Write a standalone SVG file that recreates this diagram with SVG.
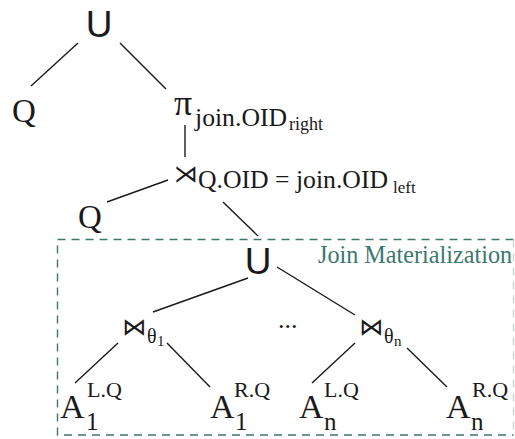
<svg xmlns="http://www.w3.org/2000/svg" width="515" height="439" viewBox="0 0 515 439">
  <style>
    .t { font-family: 'Liberation Serif', 'Times New Roman', Times, serif; fill: #1a1a1a; }
    .op { font-family: 'Liberation Sans', Arial, sans-serif; font-size: 37px; text-anchor: middle; fill: #1a1a1a; }
    .sym { font-family: 'DejaVu Sans', sans-serif; font-size: 24px; fill: #1a1a1a; }
    .rel { font-size: 33px; }
    .a { font-size: 34px; }
    .idx { font-size: 25px; }
    .sup { font-size: 22px; }
    .sub { font-size: 25.7px; }
    .tiny { font-size: 17px; }
    .th { font-size: 20px; }
    .thi { font-size: 15px; }
    .edge line { stroke: #1a1a1a; stroke-width: 1.4; }
    .frame { fill: none; stroke: #3b786e; stroke-width: 1.4; stroke-dasharray: 8 6; }
    .frame-r { stroke: #c9d6d3; stroke-width: 1.4; stroke-dasharray: 8 6; }
    .label { fill: #3b786e; font-size: 24.2px; }
  </style>

  <!-- dashed region around the materialised join -->
  <g id="join-materialization">
    <polyline class="frame" points="513.5,239.5 57.5,239.5 57.5,435 513.5,435"/>
    <line class="frame-r" x1="513.5" y1="239.5" x2="513.5" y2="435"/>
    <text class="t label" x="318" y="263">Join Materialization</text>
  </g>

  <!-- connectors -->
  <g id="edges" class="edge">
    <line x1="78" y1="43" x2="31" y2="86"/>
    <line x1="120" y1="43" x2="166" y2="89"/>
    <line x1="185" y1="125" x2="185" y2="157"/>
    <line x1="107" y1="202" x2="168" y2="180"/>
    <line x1="223" y1="202" x2="258" y2="236"/>
    <line x1="248" y1="278" x2="153" y2="312"/>
    <line x1="277" y1="267" x2="355" y2="315"/>
    <line x1="118" y1="343" x2="75" y2="383"/>
    <line x1="167" y1="343" x2="210" y2="387"/>
    <line x1="355" y1="343" x2="312" y2="383"/>
    <line x1="407" y1="348" x2="447" y2="387"/>
  </g>

  <g id="union-top">
    <text class="op" x="99" y="37">U</text>
  </g>

  <g id="q-left">
    <text class="t rel" x="12" y="122">Q</text>
  </g>

  <g id="projection">
    <text class="t" x="174" y="115" font-size="36">π</text>
    <text class="t sub" x="195" y="126">join.OID</text>
    <text class="t" x="289" y="130" font-size="18">right</text>
  </g>

  <g id="semijoin">
    <text class="sym" x="174" y="182">⋊</text>
    <text class="t sub" x="198" y="188">Q.OID = join.OID</text>
    <text class="t tiny" x="393" y="193">left</text>
  </g>

  <g id="q-join">
    <text class="t rel" x="78" y="228">Q</text>
  </g>

  <g id="union-inner">
    <text class="op" x="258" y="274">U</text>
  </g>

  <g id="join-1">
    <text class="sym" x="122" y="335">⋈</text>
    <text class="t th" x="147" y="343">θ</text>
    <text class="t thi" x="157" y="346">1</text>
  </g>

  <g id="ellipsis">
    <text class="t" x="278" y="328" font-size="26">...</text>
  </g>

  <g id="join-n">
    <text class="sym" x="359" y="335">⋈</text>
    <text class="t th" x="384" y="343">θ</text>
    <text class="t thi" x="394" y="346">n</text>
  </g>

  <g id="a1-left">
    <text class="t a" x="60" y="418">A</text>
    <text class="t idx" x="86" y="430">1</text>
    <text class="t sup" x="87" y="397">L.Q</text>
  </g>

  <g id="a1-right">
    <text class="t a" x="210" y="418">A</text>
    <text class="t idx" x="235" y="430">1</text>
    <text class="t sup" x="234" y="397">R.Q</text>
  </g>

  <g id="an-left">
    <text class="t a" x="299" y="418">A</text>
    <text class="t idx" x="324" y="430">n</text>
    <text class="t sup" x="324" y="397">L.Q</text>
  </g>

  <g id="an-right">
    <text class="t a" x="446" y="418">A</text>
    <text class="t idx" x="471" y="430">n</text>
    <text class="t sup" x="472" y="397">R.Q</text>
  </g>
</svg>
